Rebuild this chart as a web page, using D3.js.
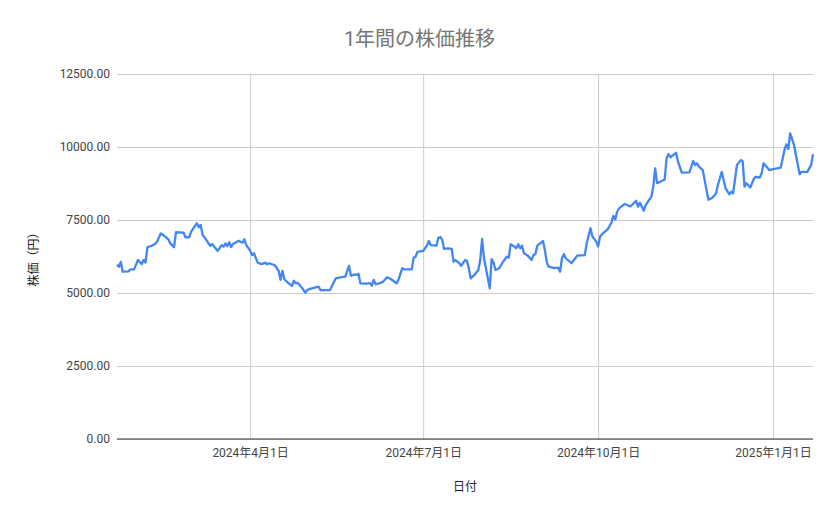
<!DOCTYPE html>
<html>
<head>
<meta charset="utf-8">
<script src="https://cdn.jsdelivr.net/npm/d3@7"></script>
<style>
  body { margin: 0; background: #fff; }
  text { font-family: Roboto, "Noto Sans CJK JP", sans-serif; }
</style>
</head>
<body>
<div id="chart"></div>
<script>
  // price data
  var dates = [
    "2024-01-22","2024-01-23","2024-01-24","2024-01-25","2024-01-28","2024-01-29","2024-01-31","2024-02-02","2024-02-04","2024-02-05",
    "2024-02-06","2024-02-07","2024-02-09","2024-02-11","2024-02-12","2024-02-14","2024-02-16","2024-02-18","2024-02-19","2024-02-21",
    "2024-02-22","2024-02-26","2024-02-27","2024-02-29","2024-03-01","2024-03-04","2024-03-05","2024-03-06","2024-03-07","2024-03-08",
    "2024-03-11","2024-03-12","2024-03-15","2024-03-17","2024-03-18","2024-03-19","2024-03-20","2024-03-21","2024-03-22","2024-03-23",
    "2024-03-26","2024-03-28","2024-03-29","2024-03-30","2024-04-01","2024-04-02","2024-04-03","2024-04-05","2024-04-07","2024-04-09",
    "2024-04-10","2024-04-11","2024-04-14","2024-04-16","2024-04-17","2024-04-18","2024-04-19","2024-04-21","2024-04-23","2024-04-24",
    "2024-04-25","2024-04-26","2024-04-28","2024-04-30","2024-05-01","2024-05-02","2024-05-07","2024-05-08","2024-05-13","2024-05-16",
    "2024-05-19","2024-05-21","2024-05-23","2024-05-24","2024-05-26","2024-05-27","2024-05-28","2024-05-29","2024-06-01","2024-06-03",
    "2024-06-04","2024-06-05","2024-06-06","2024-06-08","2024-06-10","2024-06-12","2024-06-14","2024-06-17","2024-06-18","2024-06-20",
    "2024-06-21","2024-06-25","2024-06-26","2024-06-27","2024-06-28","2024-07-01","2024-07-03","2024-07-04","2024-07-05","2024-07-08",
    "2024-07-09","2024-07-10","2024-07-11","2024-07-12","2024-07-14","2024-07-16","2024-07-17","2024-07-18","2024-07-20","2024-07-21",
    "2024-07-23","2024-07-24","2024-07-25","2024-07-26","2024-07-28","2024-07-30","2024-07-31","2024-08-01","2024-08-02","2024-08-05",
    "2024-08-06","2024-08-07","2024-08-08","2024-08-10","2024-08-12","2024-08-14","2024-08-15","2024-08-16","2024-08-18","2024-08-19",
    "2024-08-20","2024-08-21","2024-08-22","2024-08-23","2024-08-25","2024-08-27","2024-08-28","2024-08-29","2024-08-30","2024-09-02",
    "2024-09-03","2024-09-04","2024-09-05","2024-09-08","2024-09-10","2024-09-11","2024-09-12","2024-09-13","2024-09-14","2024-09-17",
    "2024-09-19","2024-09-20","2024-09-24","2024-09-25","2024-09-27","2024-09-28","2024-09-30","2024-10-01","2024-10-02","2024-10-04",
    "2024-10-06","2024-10-08","2024-10-09","2024-10-10","2024-10-11","2024-10-12","2024-10-15","2024-10-18","2024-10-21","2024-10-22",
    "2024-10-23","2024-10-25","2024-10-26","2024-10-29","2024-10-30","2024-10-31","2024-11-01","2024-11-05","2024-11-06","2024-11-07",
    "2024-11-08","2024-11-11","2024-11-12","2024-11-14","2024-11-18","2024-11-20","2024-11-21","2024-11-22","2024-11-23","2024-11-25",
    "2024-11-28","2024-11-30","2024-12-02","2024-12-03","2024-12-05","2024-12-06","2024-12-07","2024-12-09","2024-12-10","2024-12-11",
    "2024-12-13","2024-12-15","2024-12-16","2024-12-17","2024-12-18","2024-12-20","2024-12-22","2024-12-23","2024-12-25","2024-12-26",
    "2024-12-27","2024-12-30","2025-01-01","2025-01-05","2025-01-07","2025-01-08","2025-01-09","2025-01-10","2025-01-12","2025-01-15",
    "2025-01-16","2025-01-19","2025-01-21","2025-01-22"
  ];

  var prices = [
    5960,5900,6060,5730,5740,5810,5810,6130,5990,6130,
    6040,6570,6610,6680,6750,7040,6950,6840,6700,6570,
    7080,7070,6910,6910,7100,7390,7250,7330,6990,6910,
    6610,6680,6440,6640,6590,6700,6610,6740,6570,6680,
    6790,6720,6840,6640,6450,6300,6360,6040,5990,6040,
    5980,6020,5950,5760,5450,5760,5470,5350,5240,5420,
    5330,5350,5200,5010,5100,5130,5220,5100,5100,5500,
    5540,5560,5930,5590,5640,5620,5660,5330,5320,5340,
    5250,5450,5300,5330,5390,5540,5480,5330,5450,5850,
    5810,5810,6210,6240,6410,6440,6620,6780,6640,6620,
    6890,6920,6820,6510,6530,6510,6070,6130,6020,5930,
    6130,6100,5850,5500,5620,5790,6130,6850,6190,5160,
    6160,6050,5790,5850,6070,6240,6210,6670,6590,6530,
    6670,6530,6620,6360,6280,6130,6300,6330,6620,6780,
    6470,6050,5900,5850,5870,5730,6190,6330,6190,6020,
    6190,6280,6300,6700,7220,6930,6760,6590,6930,7070,
    7180,7410,7640,7520,7780,7900,8050,7960,8160,7960,
    8090,7820,8010,8300,8640,9270,8760,8890,9610,9760,
    9650,9800,9500,9120,9130,9520,9380,9440,9330,9210,
    8190,8260,8410,8700,9150,8870,8590,8380,8470,8410,
    9380,9550,9520,8640,8760,8610,8930,8980,8950,9100,
    9440,9210,9240,9290,9900,10090,9930,10470,10070,9070,
    9150,9150,9380,9750
  ];

  var yTicks = [0, 2500, 5000, 7500, 10000, 12500];
  var xTickDates = ["2024-04-01", "2024-07-01", "2024-10-01", "2025-01-01"];
  var xTickLabels = ["2024年4月1日", "2024年7月1日", "2024年10月1日", "2025年1月1日"];

  var W = 839, H = 519;
  var margin = { top: 74, right: 26, bottom: 80, left: 117 },
    width = W - margin.left - margin.right,
    height = H - margin.top - margin.bottom;

  const parseTime = d3.timeParse("%Y-%m-%d");

  var data = dates.map((d, i) => ({ date: parseTime(d), price: prices[i] }));

  var svg = d3.select("#chart").append("svg")
    .attr("width", W)
    .attr("height", H);

  var g = svg.append("g")
    .attr("transform", "translate(" + margin.left + "," + margin.top + ")");

  var x = d3.scaleTime()
    .domain(d3.extent(data, d => d.date))
    .range([0, width]);

  var y = d3.scaleLinear()
    .domain([0, 12500])
    .range([height, 0]);

  // horizontal grid + y labels
  var yAxis = d3.axisLeft(y)
    .tickValues(yTicks)
    .tickSize(-width)
    .tickPadding(7)
    .tickFormat(d3.format(".2f"));

  var yG = g.append("g").call(yAxis);
  yG.select(".domain").remove();
  yG.selectAll(".tick line").attr("stroke", "#cccccc");
  yG.selectAll(".tick text")
    .attr("fill", "#444")
    .attr("font-size", "12px");

  // vertical grid + x labels
  var xAxis = d3.axisBottom(x)
    .tickValues(xTickDates.map(parseTime))
    .tickSize(-height)
    .tickPadding(9)
    .tickFormat((d, i) => xTickLabels[i]);

  var xG = g.append("g")
    .attr("transform", "translate(0," + height + ")")
    .call(xAxis);
  xG.select(".domain").remove();
  xG.selectAll(".tick line").attr("stroke", "#cccccc");
  xG.selectAll(".tick text")
    .attr("fill", "#444")
    .attr("font-size", "12px");

  // baseline
  g.append("line")
    .attr("x1", 0).attr("x2", width)
    .attr("y1", y(0)).attr("y2", y(0))
    .attr("stroke", "#333")
    .attr("stroke-width", 1);

  // price line
  var line = d3.line()
    .x(d => x(d.date))
    .y(d => y(d.price));

  g.append("path")
    .datum(data)
    .attr("fill", "none")
    .attr("stroke", "#4285f4")
    .attr("stroke-width", 2.3)
    .attr("stroke-linejoin", "round")
    .attr("d", line);

  // title + axis titles
  svg.append("text")
    .attr("x", W / 2)
    .attr("y", 46)
    .attr("text-anchor", "middle")
    .attr("font-size", "20px")
    .attr("fill", "#757575")
    .text("1年間の株価推移");

  svg.append("text")
    .attr("x", margin.left + width / 2)
    .attr("y", 491)
    .attr("text-anchor", "middle")
    .attr("font-size", "12px")
    .attr("fill", "#222")
    .text("日付");

  svg.append("text")
    .attr("transform", "translate(38," + (margin.top + height / 2) + ") rotate(-90)")
    .attr("text-anchor", "middle")
    .attr("font-size", "12px")
    .attr("fill", "#222")
    .text("株価（円）");
</script>
</body>
</html>
